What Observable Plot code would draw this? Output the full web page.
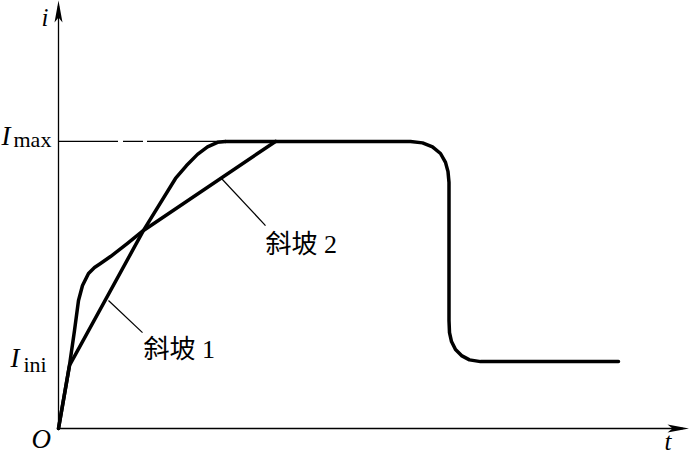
<!DOCTYPE html>
<html>
<head>
<meta charset="utf-8">
<script src="https://cdn.jsdelivr.net/npm/d3@7"></script>
<script src="https://cdn.jsdelivr.net/npm/@observablehq/plot@0.6"></script>
<style>
  html, body { margin: 0; padding: 0; background: #fff; }
  svg { display: block; }
</style>
</head>
<body>
<div id="chart"></div>
<script>
// Levels (normalised current, Imax = 1)
const I_MAX = 1.0;
const I_INI = 0.22;
const I_END = 0.233;

// Ramp 1 (steep straight ramp after Iini, rounding into Imax)
const ramp1T = [0, 1.1, 8.5, 11.7, 12.8, 13.9, 14.9, 15.9, 16.7];
const ramp1I = [0, 0.22, 0.690, 0.871, 0.916, 0.955, 0.981, 0.997, 1.0];

// Ramp 2 (fast initial rise, then shallow straight ramp to Imax)
const ramp2T = [0, 1.1, 1.6, 2.0, 2.4, 3.0, 3.6, 4.2, 5.2, 6.9, 8.5, 21.7];
const ramp2I = [0, 0.22, 0.341, 0.446, 0.498, 0.540, 0.561, 0.575, 0.599, 0.645, 0.690, 1.0];

// Common plateau at Imax and fall to the final level
const plateauT = [16.7, 35.2, 36.4, 37.4, 38.2, 38.7, 38.95, 39.05, 39.05, 39.1, 39.3, 39.7, 40.3, 41.1, 42.2, 56.0];
const plateauI = [1.0, 1.0, 0.995, 0.981, 0.958, 0.927, 0.895, 0.857, 0.376, 0.334, 0.303, 0.275, 0.254, 0.239, 0.233, 0.233];

// Ramp labels and leader lines
const leaderNames = ["斜坡 1", "斜坡 2"];
const leaderFrom = [[5.0, 0.446], [16.3, 0.871]];
const leaderTo = [[8.4, 0.334], [20.7, 0.707]];
const labelPos = [[8.5, 0.247], [20.7, 0.610]];

const T_MAX = 63.1, Y_MAX = 1.491;

const toRows = (ts, is) => ts.map((t, k) => ({t, i: is[k]}));
const ramp1 = toRows(ramp1T, ramp1I);
const ramp2 = toRows(ramp2T, ramp2I);
const plateau = toRows(plateauT, plateauI);

const arrowSymbol = {
  draw(ctx, size) {
    ctx.moveTo(0, -11);
    ctx.lineTo(4, 11);
    ctx.lineTo(0, 6);
    ctx.lineTo(-4, 11);
    ctx.closePath();
  }
};

const serif = "'Liberation Serif', 'Noto Sans CJK SC', serif";
const txt = (data, opts) => Plot.text(data, {x: "t", y: "i", text: "s", textAnchor: "start", lineAnchor: "bottom", fontFamily: serif, fill: "#000", ...opts});

const chart = Plot.plot({
  width: 689,
  height: 456,
  marginLeft: 58,
  marginRight: 0,
  marginTop: 0,
  marginBottom: 28,
  x: {domain: [0, T_MAX], axis: null},
  y: {domain: [0, Y_MAX], axis: null},
  style: {background: "#fff", color: "#000"},
  marks: [
    // axes
    Plot.ruleY([0], {x1: 0, x2: 62.5, stroke: "#000", strokeWidth: 1.3}),
    Plot.ruleX([0], {y1: 0, y2: 1.47, stroke: "#000", strokeWidth: 1.3}),
    Plot.dot([{t: 0, i: 1.453}], {x: "t", y: "i", symbol: arrowSymbol, r: 8, fill: "#000", stroke: "none"}),
    Plot.dot([{t: 62.0, i: 0}], {x: "t", y: "i", symbol: arrowSymbol, r: 8, fill: "#000", stroke: "none", rotate: 90}),
    // Imax dash-dot reference
    Plot.ruleY([I_MAX], {x1: 0, x2: 16.7, stroke: "#000", strokeWidth: 1.3, strokeDasharray: "60,5,20,4,400"}),
    // curves
    Plot.line(ramp1, {x: "t", y: "i", stroke: "#000", strokeWidth: 3.5, strokeLinejoin: "round", strokeLinecap: "round"}),
    Plot.line(ramp2, {x: "t", y: "i", stroke: "#000", strokeWidth: 3.5, strokeLinejoin: "round", strokeLinecap: "round"}),
    Plot.line(plateau, {x: "t", y: "i", stroke: "#000", strokeWidth: 3.5, strokeLinejoin: "round", strokeLinecap: "round"}),
    // leader lines
    Plot.link(leaderNames.map((n, k) => ({n, x1: leaderFrom[k][0], y1: leaderFrom[k][1], x2: leaderTo[k][0], y2: leaderTo[k][1]})),
      {x1: "x1", y1: "y1", x2: "x2", y2: "y2", stroke: "#000", strokeWidth: 1.2}),
    // ramp labels
    txt(leaderNames.map((n, k) => ({s: n, t: labelPos[k][0], i: labelPos[k][1]})), {fontSize: 26}),
    // axis letters
    txt([{t: 0, i: Y_MAX, s: "i"}], {dx: -17, dy: 25, fontSize: 25, fontStyle: "italic"}),
    txt([{t: 0, i: 0, s: "O"}], {dx: -27, dy: 19, fontSize: 27, fontStyle: "italic"}),
    txt([{t: T_MAX, i: 0, s: "t"}], {dx: -25, dy: 21, fontSize: 25, fontStyle: "italic"}),
    // level labels
    txt([{t: 0, i: I_MAX, s: "I"}], {dx: -57, dy: 4, fontSize: 27, fontStyle: "italic"}),
    txt([{t: 0, i: I_MAX, s: "max"}], {dx: -45, dy: 6, fontSize: 22}),
    txt([{t: 0, i: I_INI, s: "I"}], {dx: -48, dy: 2, fontSize: 27, fontStyle: "italic"}),
    txt([{t: 0, i: I_INI, s: "ini"}], {dx: -35, dy: 7, fontSize: 22})
  ]
});
document.getElementById("chart").appendChild(chart);
</script>
</body>
</html>
